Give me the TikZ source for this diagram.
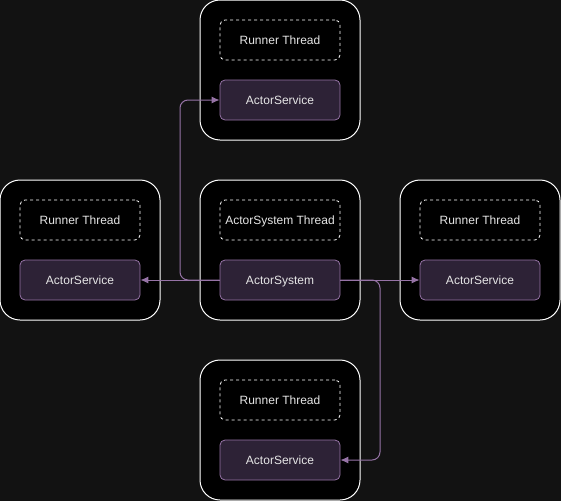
\documentclass[tikz,border=0pt]{standalone}
\usepackage{fontspec}
\setmainfont{Liberation Sans}
\usetikzlibrary{arrows.meta}
\definecolor{bg}{HTML}{121212}
\definecolor{pfill}{HTML}{2D2236}
\definecolor{pline}{HTML}{9673A6}
\definecolor{txt}{HTML}{E6E6E6}
\tikzset{
  x=1pt,y=-1pt,
  outerbox/.style={draw=white,fill=black,rounded corners=20pt,minimum width=160pt,minimum height=140pt,line width=1pt,inner sep=0pt},
  boxtext/.style={text=txt,font=\fontsize{12pt}{14pt}\selectfont,text height=8.6pt,text depth=0pt,inner sep=0pt},
  threadbox/.style={boxtext,draw=white,dashed,dash pattern=on 3pt off 3pt,fill=black,rounded corners=5pt,minimum width=120pt,minimum height=40pt,line width=0.8pt},
  svcbox/.style={boxtext,draw=pline,fill=pfill,rounded corners=5pt,minimum width=120pt,minimum height=40pt,line width=0.8pt},
  link/.style={draw=pline,line width=1pt,-{Latex[length=8pt,width=7pt]},rounded corners=8pt}
}
\begin{document}
\begin{tikzpicture}
\fill[bg] (0,0) rectangle (561,501);
\useasboundingbox (0,0) rectangle (561,501);
% outer boxes
\node[outerbox] (otop) at (280,70) {};
\node[outerbox] (oleft) at (80,250) {};
\node[outerbox] (ocenter) at (280,250) {};
\node[outerbox] (oright) at (480,250) {};
\node[outerbox] (obot) at (280,430) {};
% thread boxes
\node[threadbox] (ttop) at (280,40) {Runner Thread};
\node[threadbox] (tleft) at (80,220) {Runner Thread};
\node[threadbox] (tcenter) at (280,220) {ActorSystem Thread};
\node[threadbox] (tright) at (480,220) {Runner Thread};
\node[threadbox] (tbot) at (280,400) {Runner Thread};
% service boxes
\node[svcbox] (stop) at (280,100) {ActorService};
\node[svcbox] (sleft) at (80,280) {ActorService};
\node[svcbox] (sys) at (280,280) {ActorSystem};
\node[svcbox] (sright) at (480,280) {ActorService};
\node[svcbox] (sbot) at (280,460) {ActorService};
% connectors
\draw[link] (sys.west) -- (sleft.east);
\draw[link] (sys.east) -- (sright.west);
\draw[link] (sys.west) -| (180,190) |- (stop.west);
\draw[link] (sys.east) -| (380,370) |- (sbot.east);
\end{tikzpicture}
\end{document}
